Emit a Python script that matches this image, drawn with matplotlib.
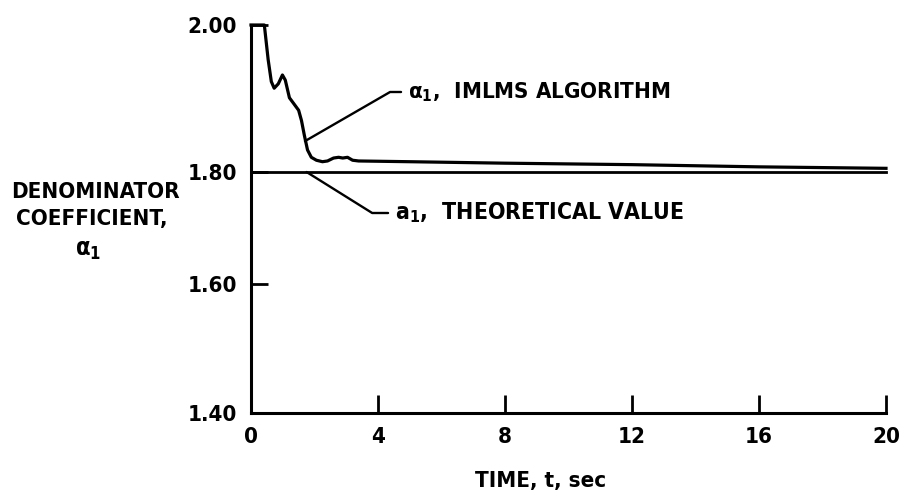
import numpy as np
import matplotlib
matplotlib.use("Agg")
import matplotlib.pyplot as plt

# IMLMS estimate of the denominator coefficient alpha_1 vs time
t_imlms = [0, 0.42, 0.54, 0.64, 0.73, 0.86, 0.99, 1.08, 1.21, 1.33, 1.50, 1.59,
           1.68, 1.78, 1.90, 2.06, 2.25, 2.41, 2.60, 2.76, 2.89, 3.04, 3.20,
           3.39, 5, 8, 12, 16, 20]
a_imlms = [2.000, 2.000, 1.953, 1.923, 1.914, 1.920, 1.932, 1.925, 1.901, 1.894,
           1.884, 1.870, 1.850, 1.830, 1.820, 1.816, 1.814, 1.815, 1.819, 1.820,
           1.819, 1.820, 1.816, 1.815, 1.814, 1.812, 1.810, 1.807, 1.805]

# theoretical value
t_theory = [0, 20]
a_theory = [1.80, 1.80]

x_ticks = [0, 4, 8, 12, 16, 20]
y_ticks = [1.40, 1.60, 1.80, 2.00]
y_ticklabels = ["1.40", "1.60", "1.80", "2.00"]

# the scanned axis is not evenly spaced, so use a piecewise scale
y_pix = [0, 129, 241, 388]

def fwd(v):
    return np.interp(v, y_ticks, y_pix)

def inv(p):
    return np.interp(p, y_pix, y_ticks)

plt.rcParams["font.family"] = ["DejaVu Sans"]
plt.rcParams["font.weight"] = "bold"
plt.rcParams["font.stretch"] = "condensed"
plt.rcParams["mathtext.default"] = "regular"

W, H = 901, 495
fig = plt.figure(figsize=(W / 100, H / 100), dpi=100)
ax = fig.add_axes([251 / W, 1 - 413 / H, (886 - 251) / W, (413 - 25) / H])

ax.set_yscale("function", functions=(fwd, inv))

ax.plot(t_imlms, a_imlms, color="black", lw=2.3, clip_on=False,
        solid_joinstyle="round")
ax.plot(t_theory, a_theory, color="black", lw=2.0, clip_on=False)

ax.set_xlim(0, 20)
ax.set_ylim(1.40, 2.00)
ax.set_xticks(x_ticks)
ax.set_yticks(y_ticks, labels=y_ticklabels)
ax.tick_params(axis="x", direction="in", length=13, width=2, pad=10,
               labelsize=16)
ax.tick_params(axis="y", direction="in", length=12, width=2, pad=10,
               labelsize=16)
ax.minorticks_off()

for s in ["top", "right"]:
    ax.spines[s].set_visible(False)
for s in ["left", "bottom"]:
    ax.spines[s].set_linewidth(2.2)

arrow = dict(arrowstyle="-", lw=1.7, color="black", shrinkA=3, shrinkB=0)
ax.annotate(r"$\alpha_1$,  IMLMS ALGORITHM", xy=(1.70, 1.842),
            xytext=(408, H - 92), textcoords="figure pixels",
            ha="left", va="center", fontsize=16,
            arrowprops=dict(connectionstyle="angle,angleA=0,angleB=30",
                            **arrow))
ax.annotate(r"a$_1$,  THEORETICAL VALUE", xy=(1.75, 1.80),
            xytext=(395, H - 213), textcoords="figure pixels",
            ha="left", va="center", fontsize=16.5,
            arrowprops=dict(connectionstyle="angle,angleA=0,angleB=-32",
                            **arrow))

fig.text(95 / W, 1 - 192 / H, "DENOMINATOR", ha="center", va="center",
         fontsize=16)
fig.text(92 / W, 1 - 219 / H, "COEFFICIENT,", ha="center", va="center",
         fontsize=16)
fig.text(88 / W, 1 - 250 / H, r"$\alpha_1$", ha="center", va="center",
         fontsize=17)

fig.text(541 / W, 1 - 481 / H, "TIME, t, sec", ha="center", va="center",
         fontsize=16)

fig.savefig("out.png", dpi=100)
